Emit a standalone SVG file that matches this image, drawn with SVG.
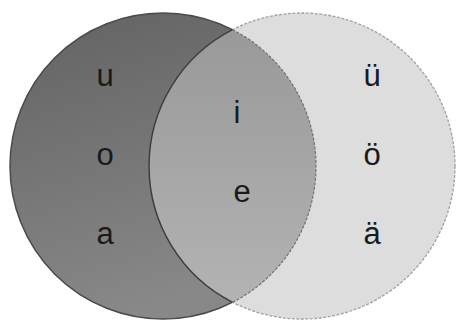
<svg xmlns="http://www.w3.org/2000/svg" width="457" height="320" viewBox="0 0 457 320">
  <defs>
    <linearGradient id="gL" x1="0" y1="0" x2="0.3" y2="1">
      <stop offset="0" stop-color="#626262"/>
      <stop offset="1" stop-color="#888888"/>
    </linearGradient>
    <linearGradient id="gI" x1="0" y1="0" x2="0" y2="1">
      <stop offset="0" stop-color="#999999"/>
      <stop offset="1" stop-color="#b3b3b3"/>
    </linearGradient>
    <style>
      .t { font-family: "Liberation Sans", Arial, sans-serif; font-size: 31px; fill: #1a1a1a; text-anchor: middle; }
    </style>
  </defs>
  <rect width="457" height="320" fill="#ffffff"/>
  <g id="set-left">
    <circle cx="163" cy="166" r="153" fill="url(#gL)" stroke="#4a4a4a" stroke-width="1.5"/>
  </g>
  <g id="set-right">
    <circle cx="302" cy="166" r="153" fill="#dddddd" stroke="#a0a0a0" stroke-width="1.3" stroke-dasharray="3 1.5"/>
  </g>
  <g id="set-intersection">
    <path d="M 232.5 29.7 A 153 153 0 0 1 232.5 302.3 A 153 153 0 0 1 232.5 29.7 Z" fill="url(#gI)"/>
    <path d="M 232.5 29.7 A 153 153 0 0 1 232.5 302.3" fill="none" stroke="#707070" stroke-width="1.2" stroke-dasharray="3 1.5"/>
    <path d="M 232.5 302.3 A 153 153 0 0 1 232.5 29.7" fill="none" stroke="#3c3c3c" stroke-width="1.5"/>
  </g>
  <g id="labels-left">
    <text class="t" x="105" y="86">u</text>
    <text class="t" x="105" y="165">o</text>
    <text class="t" x="105" y="244">a</text>
  </g>
  <g id="labels-middle">
    <text class="t" x="237" y="123">i</text>
    <text class="t" x="242" y="202">e</text>
  </g>
  <g id="labels-right">
    <text class="t" x="372" y="86">ü</text>
    <text class="t" x="372" y="165">ö</text>
    <text class="t" x="372" y="244">ä</text>
  </g>
</svg>
